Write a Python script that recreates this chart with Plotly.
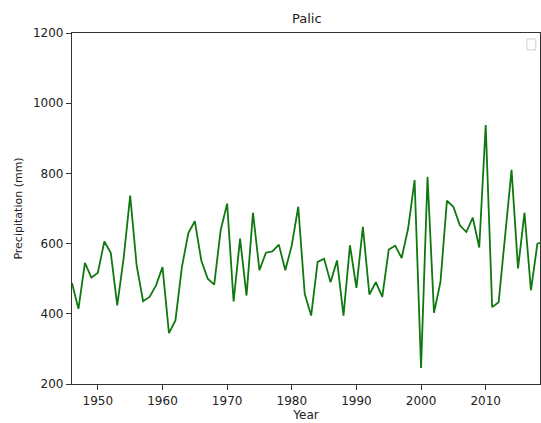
import plotly.graph_objects as go

years = list(range(1946, 2020))
precip = [
    488, 414, 545, 503, 517, 606, 574, 424, 560, 737,
    538, 436, 448, 481, 533, 345, 381, 533, 630, 664,
    552, 500, 483, 638, 714, 435, 614, 452, 688, 524,
    574, 578, 597, 524, 595, 705, 457, 395, 548, 557,
    490, 552, 395, 595, 474, 648, 455, 490, 448, 583,
    594, 559, 643, 781, 246, 790, 403, 490, 722, 705,
    652, 633, 674, 589, 938, 419, 433, 630, 810, 529,
    688, 467, 600, 605,
]
x_ticks = [1950, 1960, 1970, 1980, 1990, 2000, 2010]
y_ticks = [200, 400, 600, 800, 1000, 1200]

font = dict(family="DejaVu Sans", size=12, color="#222222")

fig = go.Figure()
fig.add_trace(go.Scatter(x=years, y=precip, mode="lines",
                         line=dict(color="#0f780f", width=1.8), showlegend=False))

axis_common = dict(showgrid=False, zeroline=False, showline=True, linecolor="#333333",
                   linewidth=1.2, mirror=True, ticks="outside", ticklen=5,
                   tickcolor="#333333", tickwidth=1, tickfont=font)

fig.update_layout(
    width=541, height=423,
    margin=dict(l=72, r=1, t=33, b=39),
    paper_bgcolor="white", plot_bgcolor="white",
    title=dict(text="Palic", x=0.567, xanchor="center", y=0.957, yanchor="middle",
               font=dict(family="DejaVu Sans", size=13, color="#222222")),
    xaxis=dict(range=[1946, 2018.4], tickvals=x_ticks, title=dict(text="Year", font=font, standoff=4),
               **axis_common),
    yaxis=dict(range=[200, 1200], tickvals=y_ticks,
               title=dict(text="Precipitation (mm)", font=dict(family="DejaVu Sans", size=11, color="#222222"), standoff=8),
               **axis_common),
    shapes=[dict(type="rect", xref="paper", yref="paper", x0=0.972, x1=0.991, y0=0.952, y1=0.983,
                 line=dict(color="#d0d0d0", width=1), fillcolor="white")],
)

fig.write_html("out.html", config={"displayModeBar": False},
               post_script="document.body.style.margin='0';document.body.style.overflow='hidden';")
